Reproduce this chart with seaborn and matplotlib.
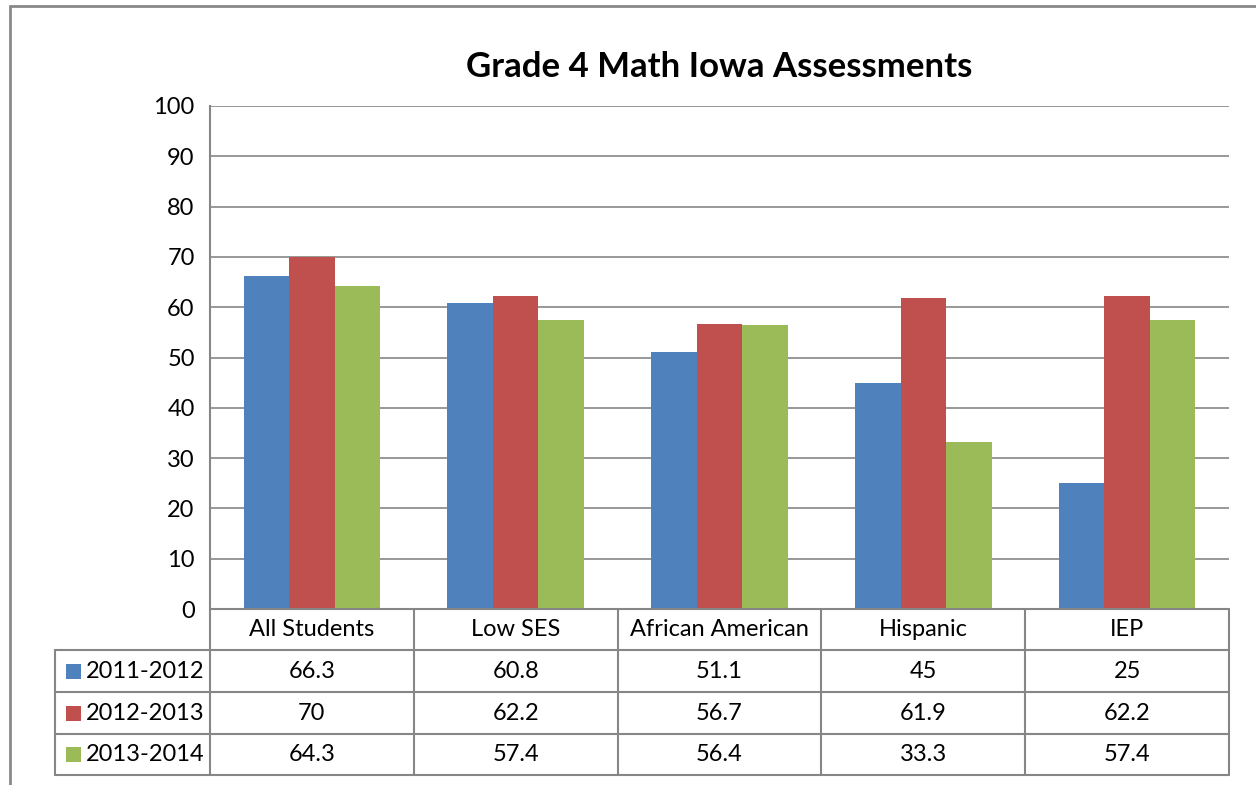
import matplotlib
matplotlib.use("Agg")
import matplotlib.pyplot as plt
import matplotlib.transforms as mtrans
from matplotlib.lines import Line2D
from matplotlib.patches import Rectangle
import pandas as pd
import seaborn as sns

categories = ["All Students", "Low SES", "African American", "Hispanic", "IEP"]
years = ["2011-2012", "2012-2013", "2013-2014"]
v2011 = [66.3, 60.8, 51.1, 45, 25]
v2012 = [70, 62.2, 56.7, 61.9, 62.2]
v2013 = [64.3, 57.4, 56.4, 33.3, 57.4]
labels2011 = ["66.3", "60.8", "51.1", "45", "25"]
labels2012 = ["70", "62.2", "56.7", "61.9", "62.2"]
labels2013 = ["64.3", "57.4", "56.4", "33.3", "57.4"]
yticks = [0, 10, 20, 30, 40, 50, 60, 70, 80, 90, 100]
title = "Grade 4 Math Iowa Assessments"

colors = ["#4F81BD", "#C0504D", "#9BBB59"]
grid_c = "#868686"

sns.set_theme(style="white")
plt.rcParams["font.family"] = ["Lato", "DejaVu Sans"]

W, H = 1256, 785
fig = plt.figure(figsize=(W / 100, H / 100), dpi=100)

def fx(px):
    return px / W

def fy(py):
    return 1 - py / H

left, right, top, bottom = 210, 1229, 106, 609
ax = fig.add_axes([fx(left), fy(bottom), fx(right) - fx(left), fy(top) - fy(bottom)])

df = pd.DataFrame({
    "group": categories * 3,
    "year": [years[0]] * 5 + [years[1]] * 5 + [years[2]] * 5,
    "value": v2011 + v2012 + v2013,
})
sns.barplot(data=df, x="group", y="value", hue="year", order=categories,
            hue_order=years, palette=colors, saturation=1, width=0.67,
            linewidth=0, ax=ax, legend=False, zorder=3)

fs = 17
ax.set_xlim(-0.5, len(categories) - 0.5)
ax.set_ylim(0, 100)
ax.set_yticks(yticks)
ax.set_yticklabels([str(t) for t in yticks], fontsize=fs, color="black")
ax.tick_params(axis="y", length=0, pad=11)
ax.set_xticks([])
ax.set_xlabel("")
ax.set_ylabel("")
ax.grid(axis="y", color=grid_c, linewidth=1.2, zorder=0)
ax.set_axisbelow(True)
for s in ["top", "right", "bottom"]:
    ax.spines[s].set_visible(False)
ax.spines["left"].set_color(grid_c)
ax.spines["left"].set_linewidth(1.5)

ax.set_title(title, fontsize=25, fontweight="bold", pad=21, color="black")

# Data table below the axes: x in data coords, y in figure coords
btr = mtrans.blended_transform_factory(ax.transData, fig.transFigure)
lw = 1.5
row_y = [609, 650, 692, 734, 775]
x_edges = [i - 0.5 for i in range(len(categories) + 1)]

fig.add_artist(Line2D([fx(left), fx(right)], [fy(609), fy(609)], color=grid_c, lw=lw))
for yy in row_y[1:]:
    fig.add_artist(Line2D([fx(55), fx(right)], [fy(yy), fy(yy)], color=grid_c, lw=lw))
for xe in x_edges:
    fig.add_artist(Line2D([xe, xe], [fy(609), fy(775)], color=grid_c, lw=lw, transform=btr))
fig.add_artist(Line2D([fx(55), fx(55)], [fy(650), fy(775)], color=grid_c, lw=lw))

for i, c in enumerate(categories):
    fig.text(i, fy(630), c, transform=btr, ha="center", va="center", fontsize=fs, color="black")

rows = [labels2011, labels2012, labels2013]
for r, (yr, lab, col) in enumerate(zip(years, rows, colors)):
    yc = (row_y[r + 1] + row_y[r + 2]) / 2
    for i, t in enumerate(lab):
        fig.text(i, fy(yc), t, transform=btr, ha="center", va="center", fontsize=fs, color="black")
    fig.add_artist(Rectangle((fx(66), fy(yc + 7.5)), fx(15), fy(0) - fy(15),
                             facecolor=col, edgecolor="none", transform=fig.transFigure))
    fig.text(fx(86), fy(yc), yr, ha="left", va="center", fontsize=fs, color="black")

# outer chart border
fig.add_artist(Line2D([fx(10), fx(10)], [fy(6), fy(785)], color="#898989", lw=2))
fig.add_artist(Line2D([fx(10), fx(1256)], [fy(6), fy(6)], color="#898989", lw=2))

fig.savefig("out.png", dpi=100, facecolor="white")
